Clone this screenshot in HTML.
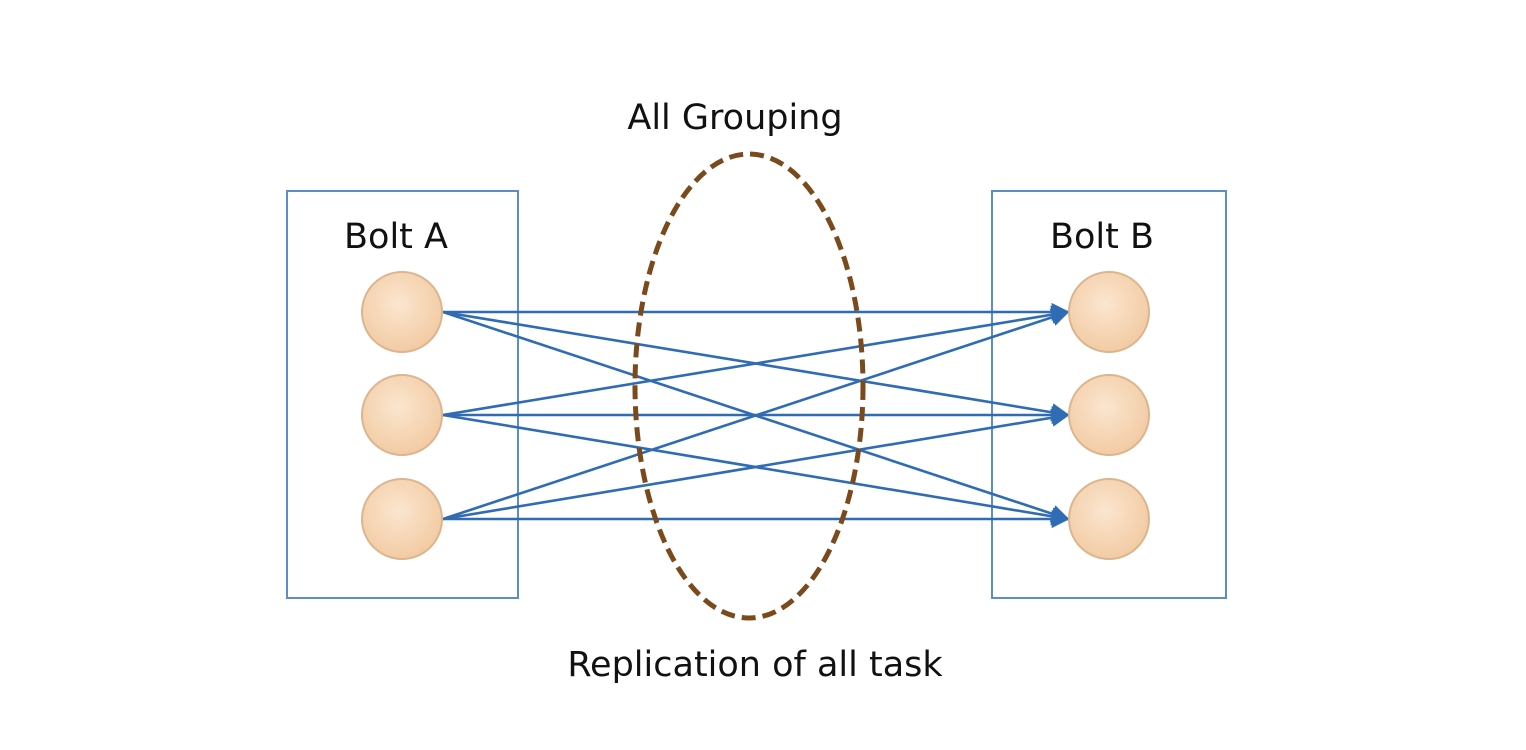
<!DOCTYPE html>
<html><head><meta charset="utf-8"><style>
html,body{margin:0;padding:0;background:#fff;}
svg{display:block;}
text{font-family:"DejaVu Sans","Liberation Sans",sans-serif;fill:#111;}
</style></head><body>
<svg width="1526" height="750" viewBox="0 0 1526 750">
<defs>
<radialGradient id="g" cx="45%" cy="40%" r="65%"><stop offset="0" stop-color="#fbe6cf"/><stop offset="1" stop-color="#f1c9a0"/></radialGradient>
<marker id="ah" viewBox="0 0 10 10" refX="9" refY="5" markerWidth="7" markerHeight="7" orient="auto" markerUnits="strokeWidth"><path d="M0,0 L10,5 L0,10 z" fill="#2f6cb3"/></marker>
</defs>
<rect x="287" y="191" width="231" height="407" fill="#fff" stroke="#5b8ec7" stroke-width="2"/>
<rect x="992" y="191" width="234" height="407" fill="#fff" stroke="#5b8ec7" stroke-width="2"/>
<text x="396" y="248" font-size="35" text-anchor="middle">Bolt A</text>
<text x="1102" y="248" font-size="35" text-anchor="middle">Bolt B</text>
<text x="735" y="129" font-size="35" text-anchor="middle">All Grouping</text>
<text x="755" y="676" font-size="35" text-anchor="middle">Replication of all task</text>
<g id="lines"></g>
<g id="nodes"></g>
<ellipse cx="749" cy="386" rx="114" ry="232" fill="none" stroke="#7a4a1c" stroke-width="5" stroke-dasharray="14,7"/>
</svg>
<script>
const ys=[312,415,519];
const lx=402, rx=1109, r=40;
const NS="http://www.w3.org/2000/svg";
const L=document.getElementById('lines'), N=document.getElementById('nodes');
ys.forEach((a,i)=>ys.forEach((b,j)=>{
 const p=document.createElementNS(NS,'line');
 p.setAttribute('x1',lx+r+1);p.setAttribute('y1',a);
 p.setAttribute('x2',rx-r-1);p.setAttribute('y2',b);
 p.setAttribute('stroke','#2f6cb3');p.setAttribute('stroke-width','2.6');
 p.setAttribute('marker-end','url(#ah)');
 
 
 L.appendChild(p);
}));
[[lx,'bolt-a-task'],[rx,'bolt-b-task']].forEach(([x,n])=>ys.forEach(y=>{
 const c=document.createElementNS(NS,'circle');
 c.setAttribute('cx',x);c.setAttribute('cy',y);c.setAttribute('r',r);
 c.setAttribute('fill','url(#g)');c.setAttribute('stroke','#dcb58f');c.setAttribute('stroke-width','2');
 
 
 N.appendChild(c);
}));
</script>
</body></html>
